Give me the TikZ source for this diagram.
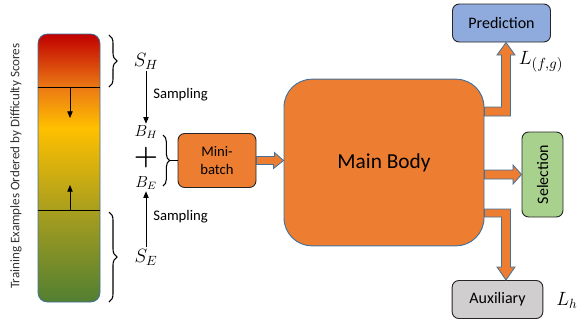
\documentclass[tikz,border=0pt]{standalone}
\usepackage{amsmath}
\usepackage{xcolor}
\usepackage{fontspec}
\setmainfont{Carlito}
\usepackage{tikz}
\usetikzlibrary{shapes,arrows.meta,positioning,calc,decorations.pathreplacing}

\definecolor{mainorange}{HTML}{ED7D31}
\definecolor{edgeblue}{HTML}{41719C}
\definecolor{predblue}{HTML}{8FAADC}
\definecolor{selgreen}{HTML}{A9D18E}
\definecolor{auxgray}{HTML}{D0CECE}
\definecolor{hardred}{HTML}{C00000}
\definecolor{midorange}{HTML}{EC7A14}
\definecolor{bargold}{HTML}{FFC000}
\definecolor{barolive}{HTML}{A89E1E}
\definecolor{easygreen}{HTML}{527F32}

\pgfdeclareverticalshading{difficulty}{100bp}{color(0bp)=(easygreen); color(25bp)=(easygreen); color(42bp)=(barolive); color(57.5bp)=(bargold); color(65bp)=(midorange); color(75bp)=(hardred); color(100bp)=(hardred)}

\begin{document}
\begin{tikzpicture}[
        x=0.75pt, y=-0.75pt,
        box/.style={rectangle, draw=black!85, line width=0.7pt, rounded corners=5pt, align=center, inner sep=2pt, font=\fontsize{12}{14}\selectfont},
        mathlbl/.style={inner sep=1pt, font=\fontsize{14}{16}\selectfont},
        smallmath/.style={inner sep=1pt, font=\fontsize{12}{14}\selectfont},
        textlbl/.style={inner sep=0pt, anchor=west, font=\fontsize{11}{13}\selectfont},
        arrow/.style={-{Triangle[length=5pt,width=4pt]}, line width=0.6pt},
        fatarrow/.style={fill=mainorange, draw=edgeblue, line width=0.6pt, line join=miter},
        curly/.style={decorate, decoration={brace, amplitude=6pt}, line width=0.8pt}
    ]
        \useasboundingbox (0,0) rectangle (578,322);

        % Ordered training examples
        \node[draw=edgeblue, line width=0.6pt, shade, shading=difficulty, rounded corners=7pt,
              minimum width=46.5pt, minimum height=201pt, inner sep=0pt] (bar) at (69,168) {};
        \node[rotate=90, inner sep=0pt, text=black!80, font=\fontsize{9.8}{11}\selectfont] (axislbl) at (16,166)
            {Training Examples Ordered by Difficulty Scores};

        \coordinate (hardcut) at (70,87);
        \coordinate (easycut) at (70,210);
        \coordinate (hardstop) at (70,118);
        \coordinate (easystop) at (70,185);
        \draw[line width=0.7pt] (bar.west |- hardcut) -- (bar.east |- hardcut);
        \draw[line width=0.7pt] (bar.west |- easycut) -- (bar.east |- easycut);
        \draw[arrow] (hardcut) -- (hardstop);
        \draw[arrow] (easycut) -- (easystop);

        % Subsets and sampling
        \draw[curly] (109,35) -- (109,87);
        \draw[curly] (109,212) -- (109,302);

        \node[mathlbl] (sh) at (146,61) {$S_H$};
        \node[mathlbl] (se) at (146,257) {$S_E$};
        \node[smallmath] (bh) at (146,132) {$B_H$};
        \node[inner sep=0pt, font=\fontsize{21}{21}\selectfont] (plus) at (146,157.5) {$\boldsymbol{+}$};
        \node[smallmath] (be) at (146,183) {$B_E$};

        \draw[arrow] (sh) -- (bh);
        \draw[arrow] (se) -- (be);
        \node[textlbl] (samplehard) at (153,95) {Sampling};
        \node[textlbl] (sampleeasy) at (153,217) {Sampling};

        % Blocks
        \node[box, fill=mainorange, minimum width=58.5pt, minimum height=40.5pt,
              font=\fontsize{11}{14}\selectfont] (mb) at (217,160.5) {Mini-\\batch};
        \node[box, fill=mainorange, draw=edgeblue, rounded corners=21pt, minimum width=150pt,
              minimum height=125pt, font=\fontsize{16}{19}\selectfont] (body) at (384,162.5) {Main Body};
        \node[box, fill=predblue, minimum width=73.5pt, minimum height=28.5pt] (pred) at (501.5,23) {Prediction};
        \node[box, fill=selgreen, minimum width=30.75pt, minimum height=63.75pt] (sel) at (542.5,174.5) {\rotatebox{90}{Selection}};
        \node[box, fill=auxgray, minimum width=68pt, minimum height=28.5pt] (aux) at (497.5,299.5) {Auxiliary};

        \node[smallmath, font=\fontsize{15}{17}\selectfont] (lfg) at (541,62) {$L_{(f,g)}$};
        \node[smallmath, font=\fontsize{14}{16}\selectfont] (lh) at (567,300) {$L_h$};

        % Connections
        \draw[curly, decoration={brace, amplitude=5pt}] (163,135) -- (163,186);
        \coordinate (bjoin) at (170,160.5);
        \draw[line width=0.8pt] (bjoin) -- (mb.west);

        \filldraw[fatarrow] ($(mb.east)+(0,-4)$) -- ++(18,0) -- ++(0,-4) -- (body.west |- mb.east)
            -- ++(-10,8) -- ++(0,-4) -- ($(mb.east)+(0,4)$) -- cycle;
        \filldraw[fatarrow] (body.east |- 0,107) -- (501.5,107) -- (501.5,55) -- (497,55)
            -- (506,0 |- pred.south) -- (515,55) -- (510.5,55) -- (510.5,116) -- (body.east |- 0,116) -- cycle;
        \filldraw[fatarrow] (body.east |- 0,170) -- (513,170) -- (513,165) -- (sel.west)
            -- (513,184) -- (513,179) -- (body.east |- 0,179) -- cycle;
        \filldraw[fatarrow] (body.east |- 0,209) -- (510.5,209) -- (510.5,267) -- (515,267)
            -- (506,0 |- aux.north) -- (497,267) -- (501.5,267) -- (501.5,217) -- (body.east |- 0,217) -- cycle;

    \end{tikzpicture}
\end{document}
